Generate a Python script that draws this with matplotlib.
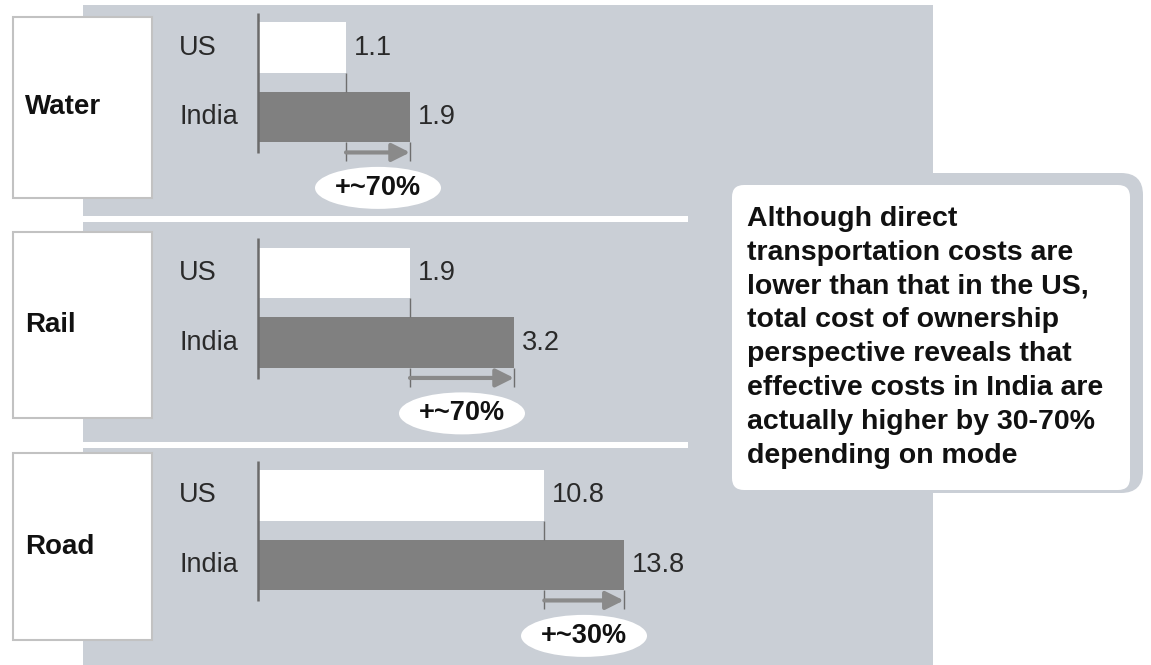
import matplotlib.pyplot as plt
from matplotlib.patches import Rectangle, FancyBboxPatch, Ellipse

plt.rcParams['font.family'] = ['Liberation Sans', 'DejaVu Sans']

# === data ===
modes = ["Water", "Rail", "Road"]
countries = ["US", "India"]
us_cost = [1.1, 1.9, 10.8]
india_cost = [1.9, 3.2, 13.8]
gap_labels = ["+~70%", "+~70%", "+~30%"]
note = ("Although direct\n"
        "transportation costs are\n"
        "lower than that in the US,\n"
        "total cost of ownership\n"
        "perspective reveals that\n"
        "effective costs in India are\n"
        "actually higher by 30-70%\n"
        "depending on mode")

# === layout (pixels) ===
W, H = 1151, 665
BG = "#cacfd6"
DARK = "#808080"
ROW = 69.5                      # distance between US and India rows
us_center = [47.5, 273, 495.5]  # y of the US row in each panel
x_max = [5.5, 5.5, 16.6]        # Road uses its own scale
box_top = [17, 232, 453]
box_bot = [198, 418, 640]
AX_X0, AX_W = 258, 440

fig = plt.figure(figsize=(W / 100, H / 100), dpi=100)
fig.patch.set_facecolor("white")

base = fig.add_axes([0, 0, 1, 1])
base.set_xlim(0, W)
base.set_ylim(H, 0)
base.axis("off")

# grey panel area and white separators
base.add_patch(Rectangle((83, 5), 850, 665, color=BG, lw=0))
for y in (216, 442):
    base.add_patch(Rectangle((83, y), 605, 5.5, color="white", lw=0))

# callout
base.add_patch(FancyBboxPatch((728, 173), 415, 320, boxstyle="round,pad=0,rounding_size=22",
                              facecolor=BG, edgecolor="none"))
base.add_patch(FancyBboxPatch((732, 185), 398, 305, boxstyle="round,pad=0,rounding_size=12",
                              facecolor="white", edgecolor="none"))
base.text(747, 206, note, ha="left", va="top", fontsize=20.5, fontweight="bold",
          color="#111111", linespacing=1.39)

for i, mode in enumerate(modes):
    # mode label box
    base.add_patch(Rectangle((13, box_top[i]), 139, box_bot[i] - box_top[i],
                             facecolor="white", edgecolor="#c2c2c2", lw=1.5))
    base.text(25, (box_top[i] + box_bot[i]) / 2, mode, ha="left", va="center",
              fontsize=20, fontweight="bold", color="#111111")

    top_px = us_center[i] - 0.55 * ROW
    ax = fig.add_axes([AX_X0 / W, 1 - (top_px + 3.0 * ROW) / H, AX_W / W, 3.0 * ROW / H])
    ax.set_xlim(0, x_max[i])
    ax.set_ylim(2.45, -0.55)
    ax.axis("off")

    us, ind = us_cost[i], india_cost[i]
    ax.barh([0], [us], height=0.72, color="white", lw=0)
    ax.barh([1], [ind], height=0.72, color=DARK, lw=0)

    ax.plot([0, 0], [-0.5, 1.52], color="#6b6b6b", lw=1.8, solid_capstyle="butt", clip_on=False)
    ax.vlines(us, 0.36, 0.64, color="#6e6e6e", lw=1)
    ax.vlines([us, ind], 1.36, 1.64, color="#6e6e6e", lw=1)

    ax.annotate("", xy=(ind, 1.51), xytext=(us, 1.51),
                arrowprops=dict(arrowstyle="-|>,head_length=0.9,head_width=0.45",
                                color="#8a8a8a", lw=3, shrinkA=0, shrinkB=0,
                                mutation_scale=12))

    for j, (name, v) in enumerate(zip(countries, [us, ind])):
        ax.annotate(name, xy=(0, j), xytext=(-79, 0), textcoords="offset pixels",
                    ha="left", va="center", fontsize=19.5, color="#2a2a2a")
        ax.annotate(f"{v}", xy=(v, j), xytext=(8, 0), textcoords="offset pixels",
                    ha="left", va="center", fontsize=19.5, color="#2a2a2a")

    px_per_unit = AX_W / x_max[i]
    mid = (us + ind) / 2
    ax.add_patch(Ellipse((mid, 2.02), 126 / px_per_unit, 42 / ROW,
                         facecolor="white", edgecolor="none", clip_on=False))
    ax.text(mid, 2.02, gap_labels[i], ha="center", va="center",
            fontsize=19.5, fontweight="bold", color="#111111")

fig.savefig("out.png", dpi=100)
